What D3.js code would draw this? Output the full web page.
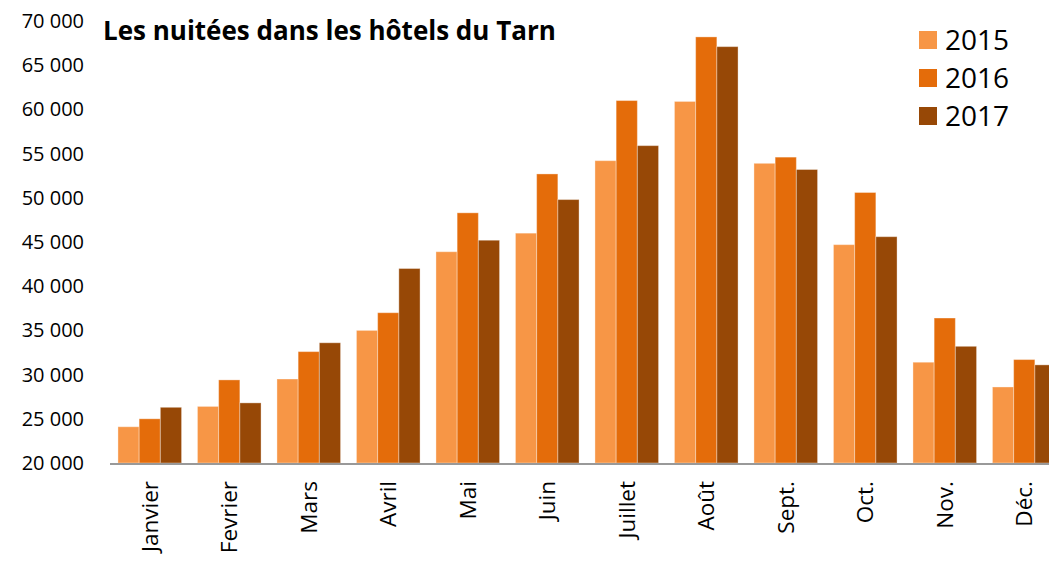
<!DOCTYPE html>
<html>
<head>
<meta charset="utf-8">
<script src="https://cdn.jsdelivr.net/npm/d3@7"></script>
<style>
  body { margin: 0; background: #fff; }
  svg { display: block; font-family: "Open Sans", sans-serif; }
</style>
</head>
<body>
<svg></svg>
<script>
const width = 1049;
const height = 563;

const months = ['Janvier', 'Fevrier', 'Mars', 'Avril', 'Mai', 'Juin', 'Juillet', 'Août', 'Sept.', 'Oct.', 'Nov.', 'Déc.'];
const years = ['2015', '2016', '2017'];
const values2015 = [24100, 26400, 29500, 35000, 43900, 46000, 54200, 60900, 53900, 44700, 31400, 28600];
const values2016 = [25000, 29400, 32600, 37000, 48300, 52700, 61000, 68200, 54600, 50600, 36400, 31700];
const values2017 = [26300, 26800, 33600, 42000, 45200, 49800, 55900, 67100, 53200, 45600, 33200, 31100];
const yTicks = [20000, 25000, 30000, 35000, 40000, 45000, 50000, 55000, 60000, 65000, 70000];
const colors = ['#f79646', '#e46c0a', '#974806'];

const series = [values2015, values2016, values2017];

const svg = d3.select('svg')
    .attr('width', width).attr('height', height);

const x = d3.scaleBand()
    .domain(months)
    .range([110, 1064])
    .paddingInner(0.2)
    .paddingOuter(0.1);
const xSub = d3.scaleBand()
    .domain(years)
    .range([0, x.bandwidth()]);
const y = d3.scaleLinear()
    .domain([20000, 70000])
    .range([463, 21]);

const fmt = v => d3.format(',')(v).replace(',', ' ');

// y tick labels
svg.append('g')
    .selectAll('text')
    .data(yTicks)
    .enter().append('text')
    .attr('x', 84)
    .attr('y', d => y(d))
    .attr('dy', '0.35em')
    .attr('text-anchor', 'end')
    .style('font-size', '20px')
    .text(fmt);

// bars
const groups = svg.append('g')
    .selectAll('g')
    .data(months)
    .enter().append('g')
    .attr('transform', d => `translate(${x(d)},0)`);

groups.selectAll('rect')
    .data((m, i) => years.map((yr, j) => ({ year: yr, value: series[j][i], color: colors[j] })))
    .enter().append('rect')
    .attr('x', d => xSub(d.year))
    .attr('width', xSub.bandwidth())
    .attr('y', d => y(d.value))
    .attr('height', d => y(20000) - y(d.value))
    .attr('fill', d => d.color)
    .attr('stroke', 'rgba(255,255,255,0.35)')
    .attr('stroke-width', 1);

// x axis line
svg.append('line')
    .attr('x1', 110).attr('x2', 1064)
    .attr('y1', y(20000) + 1).attr('y2', y(20000) + 1)
    .attr('stroke', '#999')
    .attr('stroke-width', 2);

// x labels rotated
svg.append('g')
    .selectAll('text')
    .data(months)
    .enter().append('text')
    .attr('transform', d => `translate(${x(d) + x.bandwidth() / 2},481) rotate(-90)`)
    .attr('text-anchor', 'end')
    .attr('dy', '0.35em')
    .style('font-size', '22.5px')
    .text(d => d);

// title
svg.append('text')
    .attr('x', 103)
    .attr('y', 40)
    .style('font-size', '26px')
    .style('font-weight', 'bold')
    .text('Les nuitées dans les hôtels du Tarn');

// legend
const legend = svg.append('g')
    .selectAll('g')
    .data(years)
    .enter().append('g')
    .attr('transform', (d, i) => `translate(919,${31 + i * 38})`);
legend.append('rect')
    .attr('width', 18).attr('height', 18)
    .attr('fill', (d, i) => colors[i]);
legend.append('text')
    .attr('x', 26)
    .attr('y', 9)
    .attr('dy', '0.35em')
    .style('font-size', '28px')
    .text(d => d);
</script>
</body>
</html>
